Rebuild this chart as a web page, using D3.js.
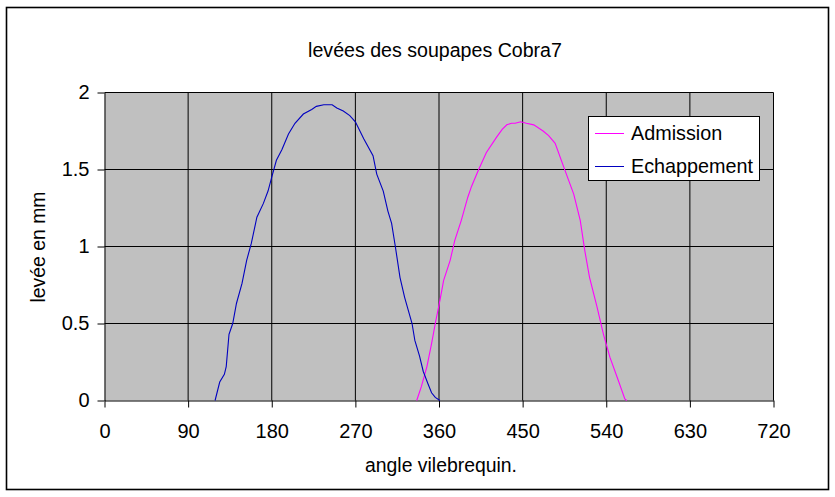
<!DOCTYPE html>
<html>
<head>
<meta charset="utf-8">
<script src="https://cdn.jsdelivr.net/npm/d3@7"></script>
<style>
  body { margin: 0; background: #fff; }
  text { font-family: Arial, "Liberation Sans", sans-serif; fill: #000; }
</style>
</head>
<body>
<div id="main"></div>
<script>
// valve lift data (angle in degrees, lift in mm)
var admAngle = [336, 341, 347, 352, 356, 361, 365, 372, 377, 384, 391, 395, 402, 411, 422, 428, 433, 438, 442, 448, 454, 462, 472, 478, 485, 494, 505, 512, 517, 522, 530, 537, 544, 553, 560, 562];
var admLift  = [0, 0.09, 0.22, 0.37, 0.50, 0.65, 0.78, 0.91, 1.04, 1.17, 1.32, 1.39, 1.49, 1.61, 1.71, 1.76, 1.79, 1.80, 1.80, 1.81, 1.80, 1.79, 1.75, 1.72, 1.67, 1.52, 1.34, 1.17, 0.97, 0.80, 0.61, 0.43, 0.28, 0.13, 0.01, 0];

var echAngle = [119, 124, 129, 131, 134, 138, 142, 148, 153, 158, 164, 171, 176, 180, 185, 191, 198, 205, 214, 223, 228, 236, 245, 250, 257, 264, 270, 279, 289, 293, 300, 305, 309, 313, 318, 323, 331, 334, 339, 343, 348, 352, 356, 361];
var echLift  = [0, 0.12, 0.17, 0.22, 0.43, 0.50, 0.63, 0.76, 0.91, 1.02, 1.19, 1.28, 1.36, 1.45, 1.56, 1.63, 1.73, 1.80, 1.86, 1.89, 1.91, 1.92, 1.92, 1.90, 1.88, 1.85, 1.81, 1.70, 1.59, 1.47, 1.36, 1.23, 1.15, 1.00, 0.80, 0.67, 0.50, 0.39, 0.29, 0.19, 0.11, 0.05, 0.02, 0];

var xTicks = [0, 90, 180, 270, 360, 450, 540, 630, 720];
var yTicks = [0, 0.5, 1, 1.5, 2];
var seriesNames = ["Admission", "Echappement"];
var seriesColors = ["#ff00ff", "#0000c0"];

var w = 835, h = 497;

var svg = d3.select("#main")
  .append("svg")
  .attr("width", w)
  .attr("height", h);

// chart frame
svg.append("rect")
  .attr("x", 6.5).attr("y", 7.5)
  .attr("width", 822).attr("height", 482)
  .attr("fill", "#fff")
  .attr("stroke", "#000")
  .attr("stroke-width", 1.6);

var x = d3.scaleLinear().domain([0, 720]).range([104.5, 773.5]);
var y = d3.scaleLinear().domain([0, 2]).range([400.5, 92.5]);

// plot area
svg.append("rect")
  .attr("x", x(0)).attr("y", y(2))
  .attr("width", x(720) - x(0)).attr("height", y(0) - y(2))
  .attr("fill", "#c0c0c0");

// grid
svg.append("g").selectAll("line")
  .data(xTicks.slice(1))
  .enter().append("line")
  .attr("x1", function(d) { return x(d); })
  .attr("x2", function(d) { return x(d); })
  .attr("y1", y(0)).attr("y2", y(2))
  .attr("stroke", "#000");

svg.append("g").selectAll("line")
  .data(yTicks.slice(1))
  .enter().append("line")
  .attr("x1", x(0)).attr("x2", x(720))
  .attr("y1", function(d) { return y(d); })
  .attr("y2", function(d) { return y(d); })
  .attr("stroke", "#000");

// axes
var xAxis = svg.append("g")
  .attr("transform", "translate(0," + y(0) + ")")
  .call(d3.axisBottom(x).tickValues(xTicks).tickSize(7).tickSizeOuter(0).tickPadding(16));
var yAxis = svg.append("g")
  .attr("transform", "translate(" + x(0) + ",0)")
  .call(d3.axisLeft(y).tickValues(yTicks).tickSize(7).tickSizeOuter(0).tickPadding(8)
    .tickFormat(function(d) { return String(d); }));

[xAxis, yAxis].forEach(function(a) {
  a.selectAll("path").attr("stroke", "#000");
  a.selectAll("line").attr("stroke", "#000");
  a.selectAll("text")
    .attr("font-family", "Arial, 'Liberation Sans', sans-serif")
    .attr("font-size", 20)
    .attr("fill", "#000");
});

// curves
var line = d3.line()
  .x(function(d) { return x(d[0]); })
  .y(function(d) { return y(d[1]); });

var series = [
  d3.zip(admAngle, admLift),
  d3.zip(echAngle, echLift)
];

svg.append("g").selectAll("path")
  .data(series)
  .enter().append("path")
  .attr("d", line)
  .attr("fill", "none")
  .attr("stroke", function(d, i) { return seriesColors[i]; })
  .attr("stroke-width", 1.1);

// titles
svg.append("text")
  .attr("x", 435).attr("y", 57)
  .attr("text-anchor", "middle")
  .attr("font-size", 19.6)
  .text("levées des soupapes Cobra7");

svg.append("text")
  .attr("x", 441).attr("y", 472)
  .attr("text-anchor", "middle")
  .attr("font-size", 19.4)
  .text("angle vilebrequin.");

svg.append("text")
  .attr("transform", "translate(45,247) rotate(-90)")
  .attr("text-anchor", "middle")
  .attr("font-size", 19.4)
  .text("levée en mm");

// legend
var leg = svg.append("g");
leg.append("rect")
  .attr("x", 588.5).attr("y", 116.5)
  .attr("width", 171).attr("height", 64)
  .attr("fill", "#fff")
  .attr("stroke", "#000");

var items = leg.selectAll("g.item")
  .data(seriesNames)
  .enter().append("g")
  .attr("class", "item")
  .attr("transform", function(d, i) { return "translate(0," + (133 + i * 33) + ")"; });

items.append("line")
  .attr("x1", 595).attr("x2", 624)
  .attr("y1", 0.5).attr("y2", 0.5)
  .attr("stroke", function(d, i) { return seriesColors[i]; });

items.append("text")
  .attr("x", 631).attr("y", 7)
  .attr("font-size", 19.8)
  .text(function(d) { return d; });
</script>
</body>
</html>
